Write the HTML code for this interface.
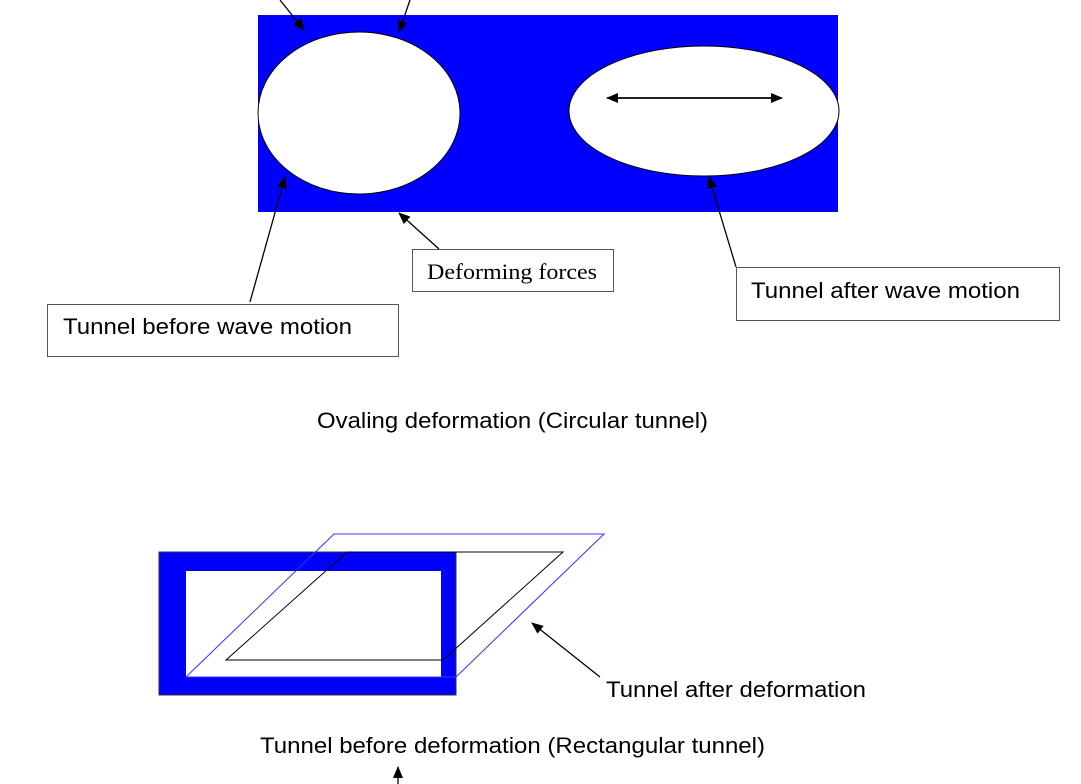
<!DOCTYPE html>
<html><head><meta charset="utf-8"><style>
html,body{margin:0;padding:0;background:#fff;}
svg{display:block;}
text{font-family:"Liberation Sans",sans-serif;font-size:22px;fill:#000;}
</style></head><body>
<svg width="1081" height="784" viewBox="0 0 1081 784" xmlns="http://www.w3.org/2000/svg">
<defs>
<marker id="a" markerWidth="12" markerHeight="10" refX="11" refY="5" orient="auto" markerUnits="userSpaceOnUse">
<path d="M0,0 L12,5 L0,10 z" fill="#000"/></marker>
</defs>
<rect x="258" y="15" width="580" height="197" fill="#0000ff"/>
<ellipse cx="359" cy="113" rx="101" ry="81" fill="#fff" stroke="#000" stroke-width="1"/>
<ellipse cx="704" cy="111" rx="135" ry="65" fill="#fff" stroke="#000" stroke-width="1"/>
<line x1="280" y1="0" x2="304" y2="30" stroke="#000" stroke-width="1.3" marker-end="url(#a)"/>
<line x1="410" y1="0" x2="399" y2="32" stroke="#000" stroke-width="1.3" marker-end="url(#a)"/>
<line x1="250" y1="302" x2="285" y2="177" stroke="#000" stroke-width="1.3" marker-end="url(#a)"/>
<line x1="439" y1="249" x2="399" y2="213" stroke="#000" stroke-width="1.3" marker-end="url(#a)"/>
<line x1="736" y1="267" x2="709" y2="177" stroke="#000" stroke-width="1.3" marker-end="url(#a)"/>
<line x1="617" y1="98" x2="782" y2="98" stroke="#000" stroke-width="1.5" marker-end="url(#a)"/>
<line x1="772" y1="98" x2="607" y2="98" stroke="#000" stroke-width="1.5" marker-end="url(#a)"/>
<rect x="412.5" y="249.5" width="201" height="42" fill="#fff" stroke="#555"/>
<text x="427" y="279" textLength="170" lengthAdjust="spacingAndGlyphs" style="font-family:'Liberation Serif',serif;font-size:22px">Deforming forces</text>
<rect x="736.5" y="267.5" width="323" height="53" fill="#fff" stroke="#555"/>
<text x="751" y="298" textLength="269" lengthAdjust="spacingAndGlyphs">Tunnel after wave motion</text>
<rect x="47.5" y="304.5" width="351" height="52" fill="#fff" stroke="#555"/>
<text x="63" y="334" textLength="289" lengthAdjust="spacingAndGlyphs">Tunnel before wave motion</text>
<text x="317" y="428" textLength="391" lengthAdjust="spacingAndGlyphs">Ovaling deformation (Circular tunnel)</text>
<rect x="159" y="552" width="297" height="143" fill="#0000ff" stroke="#333" stroke-width="1"/>
<rect x="186" y="571" width="255" height="106" fill="#fff"/>
<polygon points="334,534 604,534 456,677 186,677" fill="none" stroke="#3333ff" stroke-width="1"/>
<polygon points="347,552 563,552 443,660 226,660" fill="none" stroke="#000" stroke-width="1"/>
<line x1="600" y1="677" x2="532" y2="623" stroke="#000" stroke-width="1.3" marker-end="url(#a)"/>
<text x="606" y="697" textLength="260" lengthAdjust="spacingAndGlyphs">Tunnel after deformation</text>
<text x="260" y="753" textLength="505" lengthAdjust="spacingAndGlyphs">Tunnel before deformation (Rectangular tunnel)</text>
<line x1="398" y1="784" x2="398" y2="767" stroke="#000" stroke-width="1.3" marker-end="url(#a)"/>
</svg>
</body></html>
